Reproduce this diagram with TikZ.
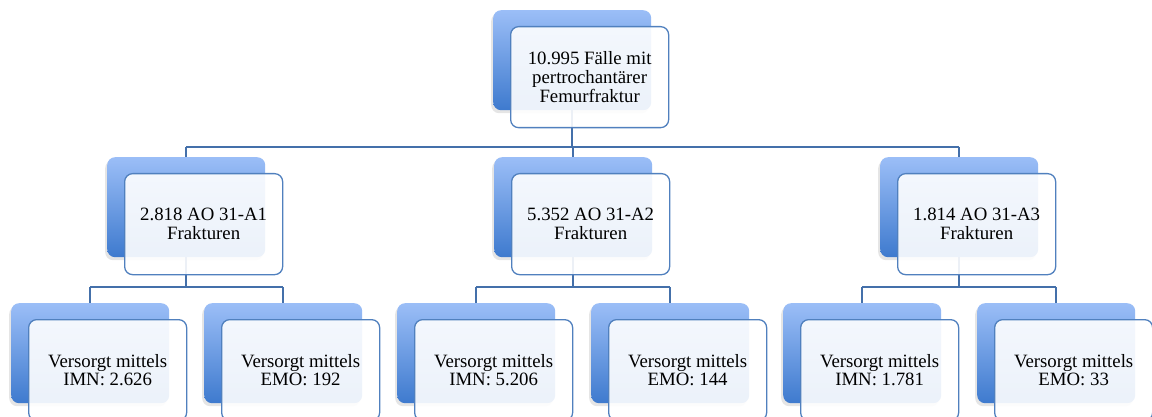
\documentclass[tikz,border=0pt]{standalone}
\usepackage{fontspec}
\setmainfont{Liberation Serif}
\usetikzlibrary{shadows,calc}
\definecolor{conncol}{RGB}{68,112,170}
\definecolor{bordercol}{RGB}{80,128,190}
\definecolor{gtop}{RGB}{155,190,247}
\definecolor{gbot}{RGB}{62,122,206}
\tikzset{
  backbox/.style={rectangle, rounded corners=8pt, minimum width=158pt, minimum height=100pt,
    inner sep=0pt, anchor=north west, top color=gtop, bottom color=gbot, draw=none,
    drop shadow={shadow xshift=-2pt, shadow yshift=-3pt, opacity=0.2}},
  frontbox/.style={rectangle, rounded corners=8pt, minimum width=158pt, minimum height=101pt,
    inner sep=0pt, anchor=north west, draw=bordercol, line width=1.3pt,
    fill=white, fill opacity=0.9, text opacity=1, align=center,
    font=\fontsize{18.8}{18.7}\selectfont},
  conn/.style={draw=conncol, line width=1.5pt}
}
\newcommand{\mybox}[3]{%
  \node[backbox] (#1b) at (#2,#3) {};
}
\newcommand{\myfront}[4]{%
  \node[frontbox] (#1f) at (#2+17,#3+16) {#4};
}
\begin{document}
\begin{tikzpicture}[x=1pt,y=-1pt]
\useasboundingbox (0,0) rectangle (1152,417);
\fill[white] (0,0) rectangle (1152,417);
% back boxes
\mybox{r}{493}{10}
\mybox{a}{107}{157}
\mybox{b}{494}{157}
\mybox{c}{880}{157}
\mybox{a1}{11}{303}
\mybox{a2}{204}{303}
\mybox{b1}{397}{303}
\mybox{b2}{591}{303}
\mybox{c1}{783}{303}
\mybox{c2}{977}{303}
% connector levels
\coordinate (h1) at (0,147);
\coordinate (h2) at (0,287);
% connectors
\draw[conn] (rb.south) -- (rb.south |- h1);
\draw[conn] (ab.north |- h1) -- (cb.north |- h1);
\draw[conn] (ab.north |- h1) -- (ab.north);
\draw[conn] (bb.north |- h1) -- (bb.north);
\draw[conn] (cb.north |- h1) -- (cb.north);
\draw[conn] (ab.south) -- (ab.south |- h2);
\draw[conn] (a1b.north |- h2) -- (a2b.north |- h2);
\draw[conn] (a1b.north |- h2) -- (a1b.north);
\draw[conn] (a2b.north |- h2) -- (a2b.north);
\draw[conn] (bb.south) -- (bb.south |- h2);
\draw[conn] (b1b.north |- h2) -- (b2b.north |- h2);
\draw[conn] (b1b.north |- h2) -- (b1b.north);
\draw[conn] (b2b.north |- h2) -- (b2b.north);
\draw[conn] (cb.south) -- (cb.south |- h2);
\draw[conn] (c1b.north |- h2) -- (c2b.north |- h2);
\draw[conn] (c1b.north |- h2) -- (c1b.north);
\draw[conn] (c2b.north |- h2) -- (c2b.north);
% front boxes
\myfront{r}{493}{10}{10.995 Fälle mit\\pertrochantärer\\Femurfraktur}
\myfront{a}{107}{157}{2.818 AO 31-A1\\Frakturen}
\myfront{b}{494}{157}{5.352 AO 31-A2\\Frakturen}
\myfront{c}{880}{157}{1.814 AO 31-A3\\Frakturen}
\myfront{a1}{11}{303}{Versorgt mittels\\IMN: 2.626}
\myfront{a2}{204}{303}{Versorgt mittels\\EMO: 192}
\myfront{b1}{397}{303}{Versorgt mittels\\IMN: 5.206}
\myfront{b2}{591}{303}{Versorgt mittels\\EMO: 144}
\myfront{c1}{783}{303}{Versorgt mittels\\IMN: 1.781}
\myfront{c2}{977}{303}{Versorgt mittels\\EMO: 33}
\end{tikzpicture}
\end{document}
